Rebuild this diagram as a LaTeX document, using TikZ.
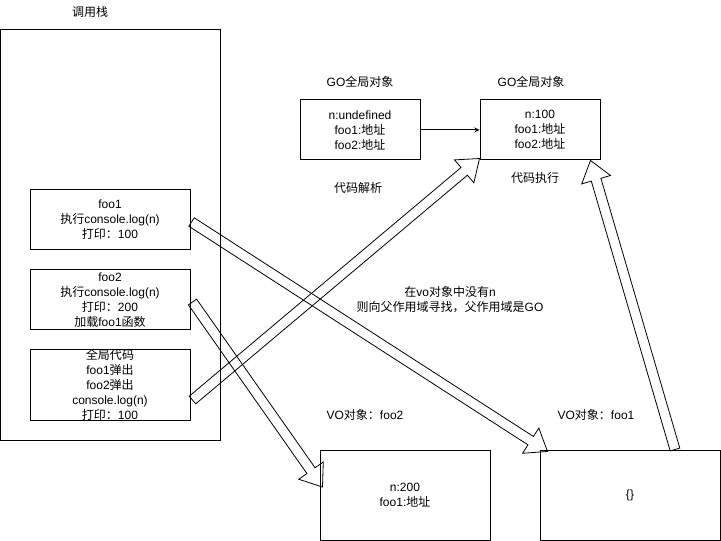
\documentclass[tikz,border=0pt]{standalone}
\usepackage{fontspec}
\setmainfont{Liberation Sans}
\newfontfamily\cjkfont{Noto Sans CJK SC}
\newcommand\zh[1]{{\cjkfont #1}}
\usetikzlibrary{calc}

% hohler Blockpfeil von #1 nach #2
\newcommand\flexarrow[2]{%
  \coordinate (fa) at ($(#2)!15pt!(#1)$);
  \draw[flex] ($(#1)!3.75pt!90:(#2)$) -- ($(fa)!3.75pt!90:(#2)$)
    -- ($(fa)!11.25pt!90:(#2)$) -- (#2) -- ($(fa)!11.25pt!-90:(#2)$)
    -- ($(fa)!3.75pt!-90:(#2)$) -- ($(#1)!3.75pt!-90:(#2)$) -- cycle;
}

\begin{document}
\begin{tikzpicture}[
        x=0.75pt, y=-0.75pt,
        font=\fontsize{9}{11.25}\selectfont,
        box/.style={draw, line width=0.75pt, inner sep=0pt, align=center, minimum width=120pt, minimum height=45pt},
        flex/.style={draw, line width=0.6pt, line join=miter},
        lbl/.style={inner sep=0pt, align=center}
    ]
        \useasboundingbox (0,0) rectangle (721,541);

        % Call stack
        \node[lbl] (lblstack) at (90,12) {\zh{调用栈}};
        \node[box, minimum width=165pt, minimum height=307.5pt] (stack) at (110,235) {};
        \node[box] (foo1) at (110,220) {foo1\\\zh{执行}console.log(n)\\\zh{打印：}100};
        \node[box] (foo2) at (110,300) {foo2\\\zh{执行}console.log(n)\\\zh{打印：}200\\\zh{加载}foo1\zh{函数}};
        \node[box, minimum height=52.5pt] (glob) at (110,385) {\zh{全局代码}\\foo1\zh{弹出}\\foo2\zh{弹出}\\console.log(n)\\\zh{打印：}100};

        % GO objects
        \node[lbl] (lblgo1) at (360,82) {GO\zh{全局对象}};
        \node[box, minimum width=90pt] (go1) at (360,130) {n:undefined\\foo1:\zh{地址}\\foo2:\zh{地址}};
        \node[lbl] (lblgo2) at (531,82) {GO\zh{全局对象}};
        \node[box, minimum width=90pt] (go2) at (540,130) {n:100\\foo1:\zh{地址}\\foo2:\zh{地址}};
        \draw[->, >=stealth, line width=0.75pt] (go1) -- (go2);

        \node[lbl] (parse) at (358,188) {\zh{代码解析}};
        \node[lbl] (exec) at (535,178) {\zh{代码执行}};
        \node[lbl] (note) at (450,300) {\zh{在}vo\zh{对象中没有}n\\\zh{则向父作用域寻找，父作用域是}GO};

        % VO objects
        \node[lbl] (lblvo2) at (365,415) {VO\zh{对象：}foo2};
        \node[box, minimum width=127.5pt, minimum height=67.5pt] (vofoo2) at (405,495) {n:200\\foo1:\zh{地址}};
        \node[lbl] (lblvo1) at (596,415) {VO\zh{对象：}foo1};
        \node[box, minimum width=135pt, minimum height=67.5pt] (vofoo1) at (630,495) {\{\}};

        % Blockpfeile
        \coordinate (a1s) at ([shift={(1,2)}]foo1.east);
        \coordinate (a1e) at ([shift={(8,2)}]vofoo1.north west);
        \coordinate (a2s) at ([shift={(2,2)}]foo2.east);
        \coordinate (a2e) at ([shift={(3,-8)}]vofoo2.west);
        \coordinate (a3s) at ([shift={(2,15)}]glob.east);
        \coordinate (a3e) at ([shift={(0,-2)}]go2.south west);
        \coordinate (a4s) at ([shift={(45,0)}]vofoo1.north);
        \coordinate (a4e) at ([shift={(-10,0)}]go2.south east);
        \flexarrow{a1s}{a1e}
        \flexarrow{a2s}{a2e}
        \flexarrow{a3s}{a3e}
        \flexarrow{a4s}{a4e}

    \end{tikzpicture}
\end{document}
